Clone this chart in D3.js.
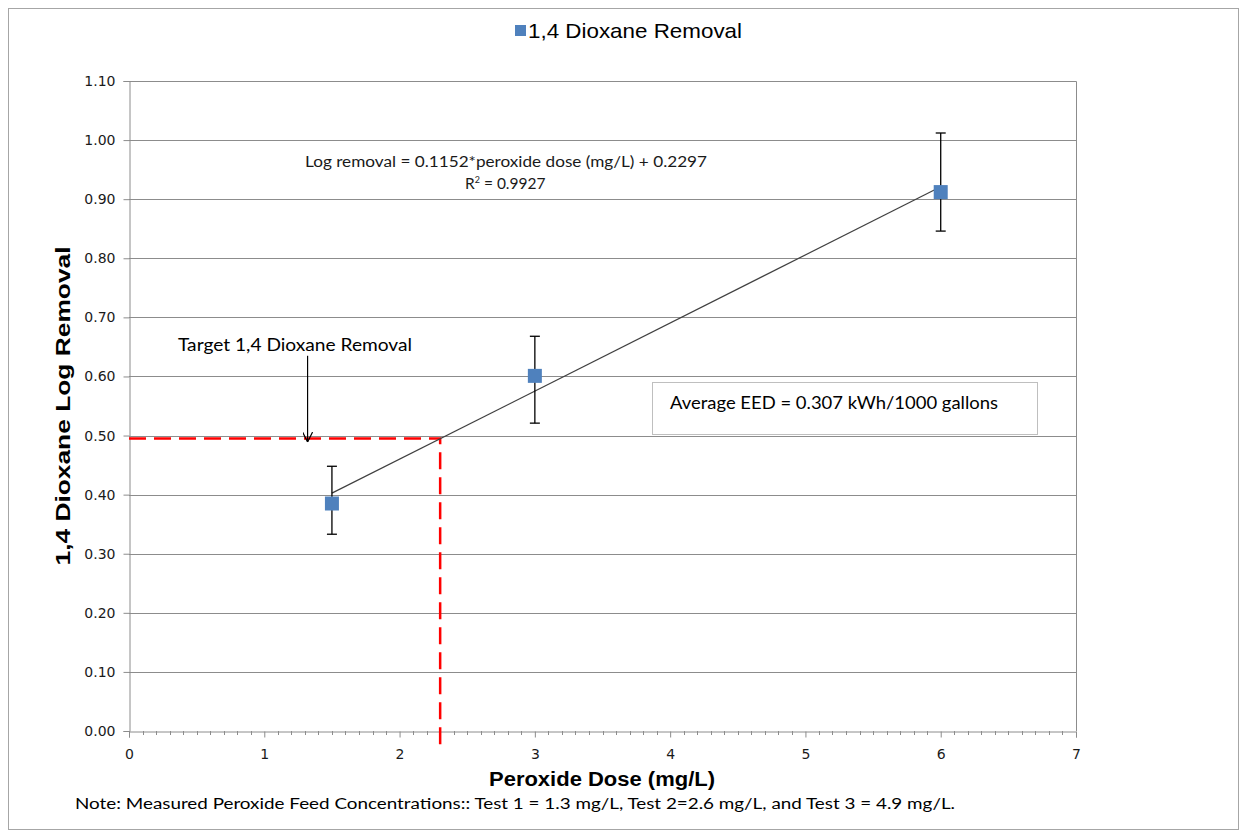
<!DOCTYPE html>
<html>
<head>
<meta charset="utf-8">
<script src="https://cdn.jsdelivr.net/npm/d3@7"></script>
<style>
  body { margin: 0; background: #fff; }
  svg { display: block; }
</style>
</head>
<body>
<div id="chart"></div>
<script>
// measured data
const dose = [1.5, 3, 6];
const logRemoval = [0.385, 0.601, 0.912];
const errHigh = [0.448, 0.668, 1.012];
const errLow = [0.333, 0.521, 0.846];

const slope = 0.1152, intercept = 0.2297;
const fitRange = [1.5, 6];

const targetDose = 2.3, targetRemoval = 0.495;
const arrowDose = 1.32, arrowFrom = 0.635, arrowTo = 0.489;

const xTicks = [0, 1, 2, 3, 4, 5, 6, 7];
const yTicks = d3.range(0, 1.101, 0.1);

const W = 1246, H = 837;
const margin = {left: 129, right: 170, top: 81, bottom: 106};

const x = d3.scaleLinear().domain([0, 7]).range([margin.left, W - margin.right]);
const y = d3.scaleLinear().domain([0, 1.1]).range([H - margin.bottom, margin.top]);

const svg = d3.select("#chart").append("svg")
	.attr("width", W).attr("height", H);

// outer chart border
svg.append("rect")
	.attr("x", 8.5).attr("y", 8.5).attr("width", W - 16).attr("height", H - 16)
	.attr("fill", "#fff").attr("stroke", "#a6a6a6");

// gridlines
svg.append("g")
	.selectAll("line")
	.data(yTicks.slice(1))
	.join("line")
		.attr("x1", x(0)).attr("x2", x(7))
		.attr("y1", d => Math.round(y(d)) + 0.5).attr("y2", d => Math.round(y(d)) + 0.5)
		.attr("stroke", "#8c8c8c");

// plot border top/right
svg.append("path")
	.attr("d", `M${x(0)},${Math.round(y(1.1)) + 0.5}H${Math.round(x(7)) + 0.5}V${y(0)}`)
	.attr("fill", "none").attr("stroke", "#8c8c8c");

const tickFont = "DejaVu Sans, Verdana, sans-serif";

// y axis
const yAxis = svg.append("g")
	.attr("transform", `translate(${Math.round(x(0)) + 0.5},0)`)
	.call(d3.axisLeft(y).tickValues(yTicks).tickFormat(d3.format(".2f")).tickSize(6).tickPadding(8));
yAxis.select(".domain").attr("stroke", "#8c8c8c");
yAxis.selectAll(".tick line").attr("stroke", "#8c8c8c");
yAxis.selectAll("text").attr("font-family", tickFont).attr("font-size", 14).attr("fill", "#1a1a1a");

// x axis
const xAxis = svg.append("g")
	.attr("transform", `translate(0,${Math.round(y(0)) + 0.5})`)
	.call(d3.axisBottom(x).tickValues(xTicks).tickFormat(d3.format("d")).tickSize(6).tickPadding(12));
xAxis.select(".domain").attr("stroke", "#8c8c8c");
xAxis.selectAll(".tick line").attr("stroke", "#8c8c8c");
xAxis.selectAll("text").attr("font-family", tickFont).attr("font-size", 14).attr("fill", "#1a1a1a");

// minor x ticks
svg.append("g")
	.selectAll("line")
	.data(d3.range(0, 70).map(i => i / 10).filter((d, i) => i % 10 !== 0))
	.join("line")
		.attr("x1", d => Math.round(x(d)) + 0.5).attr("x2", d => Math.round(x(d)) + 0.5)
		.attr("y1", y(0)).attr("y2", y(0) + 4)
		.attr("stroke", "#8c8c8c");

// red target dashed lines
svg.append("path")
	.attr("d", `M${x(0)},${y(targetRemoval)}H${x(targetDose)}V${y(0) + 14}`)
	.attr("fill", "none").attr("stroke", "#ff0000").attr("stroke-width", 2.5)
	.attr("stroke-dasharray", "17,8");

// trend line
svg.append("line")
	.attr("x1", x(fitRange[0])).attr("y1", y(slope * fitRange[0] + intercept))
	.attr("x2", x(fitRange[1])).attr("y2", y(slope * fitRange[1] + intercept))
	.attr("stroke", "#404040").attr("stroke-width", 1.2);

// error bars
const eb = svg.append("g").attr("stroke", "#000").attr("stroke-width", 1.3);
eb.selectAll(".v").data(dose).join("line")
	.attr("x1", d => x(d)).attr("x2", d => x(d))
	.attr("y1", (d, i) => y(errHigh[i])).attr("y2", (d, i) => y(errLow[i]));
eb.selectAll(".t").data(dose).join("line")
	.attr("x1", d => x(d) - 5).attr("x2", d => x(d) + 5)
	.attr("y1", (d, i) => y(errHigh[i])).attr("y2", (d, i) => y(errHigh[i]));
eb.selectAll(".b").data(dose).join("line")
	.attr("x1", d => x(d) - 5).attr("x2", d => x(d) + 5)
	.attr("y1", (d, i) => y(errLow[i])).attr("y2", (d, i) => y(errLow[i]));

// markers
svg.append("g")
	.selectAll("rect")
	.data(dose)
	.join("rect")
		.attr("x", d => x(d) - 7).attr("y", (d, i) => y(logRemoval[i]) - 7)
		.attr("width", 14).attr("height", 14)
		.attr("fill", "#4f81bd");

// arrow annotation
svg.append("defs").append("marker")
	.attr("id", "arrowhead").attr("viewBox", "0 0 10 10")
	.attr("refX", 10).attr("refY", 5).attr("markerWidth", 10).attr("markerHeight", 10)
	.attr("markerUnits", "userSpaceOnUse").attr("orient", "auto")
	.append("path").attr("d", "M0,0L10,5L0,10").attr("fill", "none").attr("stroke", "#000").attr("stroke-width", 1.2);
svg.append("line")
	.attr("x1", x(arrowDose)).attr("x2", x(arrowDose))
	.attr("y1", y(arrowFrom)).attr("y2", y(arrowTo))
	.attr("stroke", "#000").attr("stroke-width", 1.2)
	.attr("marker-end", "url(#arrowhead)");

const noteFont = "Lato, Carlito, sans-serif";
svg.append("text")
	.attr("x", 178).attr("y", 351)
	.attr("font-family", noteFont).attr("font-size", 17)
	.attr("textLength", 234).attr("lengthAdjust", "spacingAndGlyphs")
	.text("Target 1,4 Dioxane Removal");

// equation
svg.append("text")
	.attr("x", 305).attr("y", 167)
	.attr("font-family", noteFont).attr("font-size", 14.5).attr("fill", "#1a1a1a")
	.attr("textLength", 402).attr("lengthAdjust", "spacingAndGlyphs")
	.text("Log removal = 0.1152*peroxide dose (mg/L) + 0.2297");
const r2 = svg.append("text")
	.attr("x", 465).attr("y", 189)
	.attr("font-family", noteFont).attr("font-size", 15.5).attr("fill", "#1a1a1a");
r2.append("tspan").text("R");
r2.append("tspan").attr("font-size", 9).attr("dy", -6).text("2");
r2.append("tspan").attr("dy", 6).text(" = 0.9927");

// EED box
svg.append("rect")
	.attr("x", 652.5).attr("y", 382.5).attr("width", 385).attr("height", 52)
	.attr("fill", "#fff").attr("stroke", "#bfbfbf");
svg.append("text")
	.attr("x", 670).attr("y", 409)
	.attr("font-family", noteFont).attr("font-size", 17)
	.attr("textLength", 328).attr("lengthAdjust", "spacingAndGlyphs")
	.text("Average EED = 0.307 kWh/1000 gallons");

// legend
svg.append("rect").attr("x", 515).attr("y", 25).attr("width", 11).attr("height", 11).attr("fill", "#4f81bd");
svg.append("text")
	.attr("x", 528).attr("y", 38)
	.attr("font-family", "Liberation Sans, Arial, sans-serif").attr("font-size", 21)
	.attr("textLength", 214).attr("lengthAdjust", "spacingAndGlyphs")
	.text("1,4 Dioxane Removal");

// axis titles
svg.append("text")
	.attr("transform", `translate(70,${(y(0) + y(1.1)) / 2}) rotate(-90)`)
	.attr("text-anchor", "middle")
	.attr("font-family", "Liberation Sans, Arial, sans-serif").attr("font-size", 20).attr("font-weight", "bold")
	.attr("textLength", 319).attr("lengthAdjust", "spacingAndGlyphs")
	.text("1,4 Dioxane Log Removal");
svg.append("text")
	.attr("x", 602).attr("y", 786).attr("text-anchor", "middle")
	.attr("font-family", "Liberation Sans, Arial, sans-serif").attr("font-size", 20).attr("font-weight", "bold")
	.attr("textLength", 226).attr("lengthAdjust", "spacingAndGlyphs")
	.text("Peroxide Dose (mg/L)");

// note
svg.append("text")
	.attr("x", 75).attr("y", 809)
	.attr("font-family", noteFont).attr("font-size", 15.5)
	.attr("textLength", 880).attr("lengthAdjust", "spacingAndGlyphs")
	.text("Note: Measured Peroxide Feed Concentrations:: Test 1 = 1.3 mg/L, Test 2=2.6  mg/L, and Test 3 = 4.9 mg/L.");
</script>
</body>
</html>
